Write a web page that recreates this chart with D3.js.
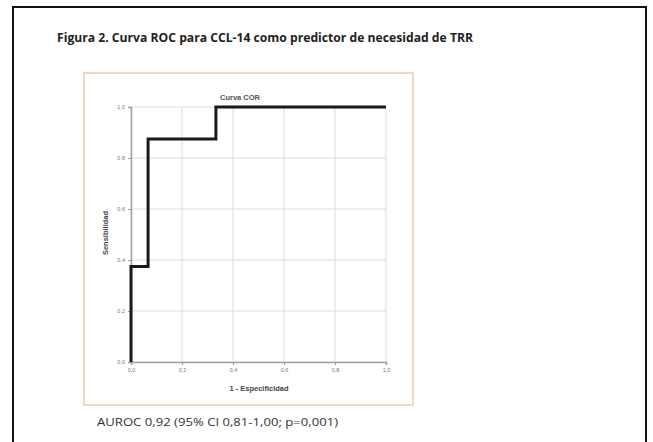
<!DOCTYPE html>
<html>
<head>
<meta charset="utf-8">
<script src="https://cdn.jsdelivr.net/npm/d3@7"></script>
<style>
  body { margin: 0; background: #fff; }
  svg { display: block; }
</style>
</head>
<body>
<div id="chart"></div>
<script>
// ROC curve points (1 - especificidad, sensibilidad)
const fpr = [0, 0, 0.067, 0.067, 0.333, 0.333, 1];
const tpr = [0, 0.375, 0.375, 0.875, 0.875, 1, 1];
const tickValues = [0, 0.2, 0.4, 0.6, 0.8, 1];

const W = 653, H = 442;
const svg = d3.select("#chart").append("svg").attr("width", W).attr("height", H);

// outer page border
svg.append("rect")
  .attr("x", 13).attr("y", 7).attr("width", 633).attr("height", 450)
  .attr("fill", "#fff").attr("stroke", "#111").attr("stroke-width", 2);

svg.append("text")
  .attr("x", 265).attr("y", 42)
  .attr("text-anchor", "middle")
  .attr("font-family", "'Open Sans', sans-serif")
  .attr("font-weight", 700)
  .attr("font-size", 12.5)
  .attr("fill", "#222")
  .attr("textLength", 416)
  .attr("lengthAdjust", "spacingAndGlyphs")
  .text("Figura 2. Curva ROC para CCL-14 como predictor de necesidad de TRR");

// chart frame
svg.append("rect")
  .attr("x", 84).attr("y", 73).attr("width", 329).attr("height", 332)
  .attr("fill", "#fff").attr("stroke", "#f3d6c0").attr("stroke-width", 2);

const margin = { left: 131, top: 107 };
const size = 255;
const g = svg.append("g").attr("transform", "translate(" + margin.left + "," + margin.top + ")");

const x = d3.scaleLinear().domain([0, 1]).range([0, size]);
const y = d3.scaleLinear().domain([0, 1]).range([size, 0]);

// grid
g.selectAll(".gx").data(tickValues).enter().append("line")
  .attr("x1", d => x(d)).attr("x2", d => x(d))
  .attr("y1", 0).attr("y2", size)
  .attr("stroke", "#dcdcdc").attr("stroke-width", 1);
g.selectAll(".gy").data(tickValues).enter().append("line")
  .attr("y1", d => y(d)).attr("y2", d => y(d))
  .attr("x1", 0).attr("x2", size)
  .attr("stroke", "#dcdcdc").attr("stroke-width", 1);

const fmt = d => d3.format(".1f")(d).replace(".", ",");

const xAxis = g.append("g")
  .attr("transform", "translate(0," + size + ")")
  .call(d3.axisBottom(x).tickValues(tickValues).tickFormat(fmt).tickSize(3));
const yAxis = g.append("g")
  .call(d3.axisLeft(y).tickValues(tickValues).tickFormat(fmt).tickSize(3));

[xAxis, yAxis].forEach(a => {
  a.select(".domain").attr("stroke", "#a0a0a0").attr("stroke-width", 1.5);
  a.selectAll(".tick line").attr("stroke", "#a0a0a0");
  a.selectAll(".tick text")
    .attr("font-family", "Arial, 'Liberation Sans', sans-serif")
    .attr("font-size", 5.5).attr("fill", "#777");
});

// ROC line
const pts = fpr.map((v, i) => [v, tpr[i]]);
g.append("path")
  .datum(pts)
  .attr("fill", "none")
  .attr("stroke", "#1a1a1a")
  .attr("stroke-width", 3)
  .attr("d", d3.line().x(d => x(d[0])).y(d => y(d[1])));

// chart title & axis labels
svg.append("text")
  .attr("x", 240).attr("y", 100)
  .attr("text-anchor", "middle")
  .attr("font-family", "Arial, 'Liberation Sans', sans-serif")
  .attr("font-weight", 700).attr("font-size", 7.5).attr("fill", "#555")
  .text("Curva COR");

svg.append("text")
  .attr("x", 259).attr("y", 391)
  .attr("text-anchor", "middle")
  .attr("font-family", "Arial, 'Liberation Sans', sans-serif")
  .attr("font-weight", 700).attr("font-size", 7.5).attr("fill", "#444")
  .text("1 - Especificidad");

svg.append("text")
  .attr("transform", "translate(108,233) rotate(-90)")
  .attr("text-anchor", "middle")
  .attr("font-family", "Arial, 'Liberation Sans', sans-serif")
  .attr("font-weight", 700).attr("font-size", 7.5).attr("fill", "#444")
  .text("Sensibilidad");

svg.append("text")
  .attr("x", 97).attr("y", 426)
  .attr("font-family", "'Open Sans', sans-serif")
  .attr("font-size", 11.5).attr("fill", "#333")
  .attr("textLength", 241)
  .attr("lengthAdjust", "spacingAndGlyphs")
  .text("AUROC 0,92 (95% CI 0,81-1,00; p=0,001)");
</script>
</body>
</html>
